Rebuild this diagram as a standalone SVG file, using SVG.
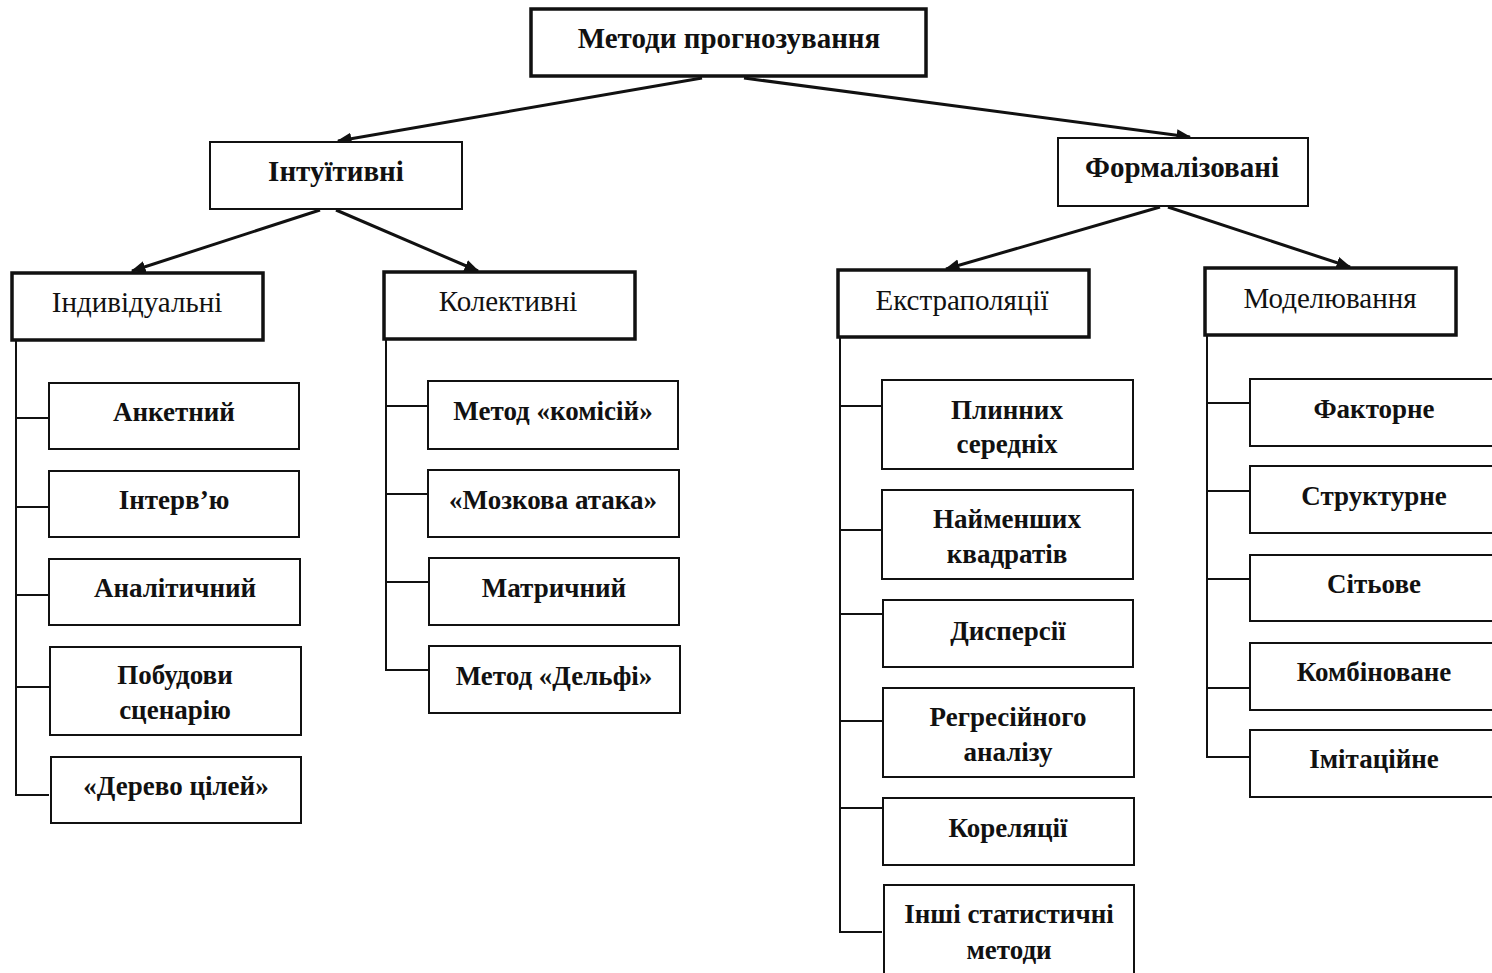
<svg xmlns="http://www.w3.org/2000/svg" width="1492" height="973" viewBox="0 0 1492 973">
<style>
.b{fill:#fff;stroke:#111;stroke-width:2}
.bt{fill:#fff;stroke:#111;stroke-width:3.5}
.t{font-family:"Liberation Serif","Times New Roman",serif;font-size:27px;fill:#111;text-anchor:middle;font-weight:bold}
.h{font-size:29px}
.r{font-weight:normal;font-size:29px}
.c{fill:none;stroke:#111;stroke-width:2}
.a{fill:none;stroke:#111;stroke-width:3;marker-end:url(#ah)}
</style>
<defs>
<marker id="ah" viewBox="0 0 10 10" refX="9" refY="5" markerWidth="5" markerHeight="5" orient="auto" markerUnits="strokeWidth">
<path d="M0,1 L10,5 L0,9 Z" fill="#111"/>
</marker>
</defs>
<rect width="1492" height="973" fill="#fff"/>
<g id="connectors">
<line class="a" x1="702" y1="78" x2="338" y2="141"/>
<line class="a" x1="744" y1="78" x2="1190" y2="137"/>
<line class="a" x1="320" y1="210" x2="132" y2="271"/>
<line class="a" x1="336" y1="210" x2="478" y2="271"/>
<line class="a" x1="1160" y1="207" x2="946" y2="269"/>
<line class="a" x1="1168" y1="207" x2="1350" y2="267"/>
<path class="c" d="M16,340 V795 H49 M16,418 H49 M16,507 H49 M16,595 H49 M16,687 H49"/>
<path class="c" d="M386,339 V670 H428 M386,406 H428 M386,494 H428 M386,582 H428"/>
<path class="c" d="M840,337 V932 H882 M840,406 H882 M840,530 H882 M840,614 H882 M840,721 H882 M840,808 H882"/>
<path class="c" d="M1207,335 V757 H1250 M1207,403 H1250 M1207,491 H1250 M1207,579 H1250 M1207,688 H1250"/>
</g>
<g id="n-root"><rect class="bt" x="531" y="9" width="395" height="67"/><text class="t h" x="729" y="48">Методи прогнозування</text></g>
<g id="n-intuitive"><rect class="b" x="210" y="142" width="252" height="67"/><text class="t h" x="336" y="181">Інтуїтивні</text></g>
<g id="n-formal"><rect class="b" x="1058" y="138" width="250" height="68"/><text class="t h" x="1182" y="177">Формалізовані</text></g>
<g id="n-individual"><rect class="bt" x="12" y="273" width="251" height="67"/><text class="t r" x="137" y="312">Індивідуальні</text></g>
<g id="n-collective"><rect class="bt" x="384" y="272" width="251" height="67"/><text class="t r" x="508" y="311">Колективні</text></g>
<g id="n-extrap"><rect class="bt" x="838" y="270" width="251" height="67"/><text class="t r" x="962" y="310">Екстраполяції</text></g>
<g id="n-model"><rect class="bt" x="1205" y="268" width="251" height="67"/><text class="t r" x="1330" y="308">Моделювання</text></g>

<g id="n-ank"><rect class="b" x="49" y="383" width="250" height="66"/><text class="t" x="174" y="421">Анкетний</text></g>
<g id="n-int"><rect class="b" x="49" y="471" width="250" height="66"/><text class="t" x="174" y="509">Інтерв’ю</text></g>
<g id="n-anal"><rect class="b" x="49" y="559" width="251" height="66"/><text class="t" x="175" y="597">Аналітичний</text></g>
<g id="n-scen"><rect class="b" x="50" y="647" width="251" height="88"/><text class="t" x="175" y="684">Побудови</text><text class="t" x="175" y="719">сценарію</text></g>
<g id="n-tree"><rect class="b" x="51" y="757" width="250" height="66"/><text class="t" x="176" y="795">«Дерево цілей»</text></g>

<g id="n-kom"><rect class="b" x="428" y="381" width="250" height="68"/><text class="t" x="553" y="420">Метод «комісій»</text></g>
<g id="n-brain"><rect class="b" x="428" y="470" width="251" height="67"/><text class="t" x="553" y="509">«Мозкова атака»</text></g>
<g id="n-matr"><rect class="b" x="429" y="558" width="250" height="67"/><text class="t" x="554" y="597">Матричний</text></g>
<g id="n-delphi"><rect class="b" x="429" y="646" width="251" height="67"/><text class="t" x="554" y="685">Метод «Дельфі»</text></g>

<g id="n-moving"><rect class="b" x="882" y="380" width="251" height="89"/><text class="t" x="1007" y="419">Плинних</text><text class="t" x="1007" y="453">середніх</text></g>
<g id="n-lsq"><rect class="b" x="882" y="490" width="251" height="89"/><text class="t" x="1007" y="528">Найменших</text><text class="t" x="1007" y="563">квадратів</text></g>
<g id="n-disp"><rect class="b" x="883" y="600" width="250" height="67"/><text class="t" x="1008" y="640">Дисперсії</text></g>
<g id="n-regr"><rect class="b" x="883" y="688" width="251" height="89"/><text class="t" x="1008" y="726">Регресійного</text><text class="t" x="1008" y="761">аналізу</text></g>
<g id="n-corr"><rect class="b" x="883" y="798" width="251" height="67"/><text class="t" x="1008" y="837">Кореляції</text></g>
<g id="n-other"><rect class="b" x="884" y="885" width="250" height="90"/><text class="t" x="1009" y="923">Інші статистичні</text><text class="t" x="1009" y="959">методи</text></g>

<g id="n-fact"><rect class="b" x="1250" y="379" width="250" height="67"/><text class="t" x="1374" y="418">Факторне</text></g>
<g id="n-struct"><rect class="b" x="1250" y="466" width="250" height="67"/><text class="t" x="1374" y="505">Структурне</text></g>
<g id="n-net"><rect class="b" x="1250" y="555" width="250" height="66"/><text class="t" x="1374" y="593">Сітьове</text></g>
<g id="n-comb"><rect class="b" x="1250" y="643" width="250" height="67"/><text class="t" x="1374" y="681">Комбіноване</text></g>
<g id="n-imit"><rect class="b" x="1250" y="730" width="250" height="67"/><text class="t" x="1374" y="768">Імітаційне</text></g>
</svg>
